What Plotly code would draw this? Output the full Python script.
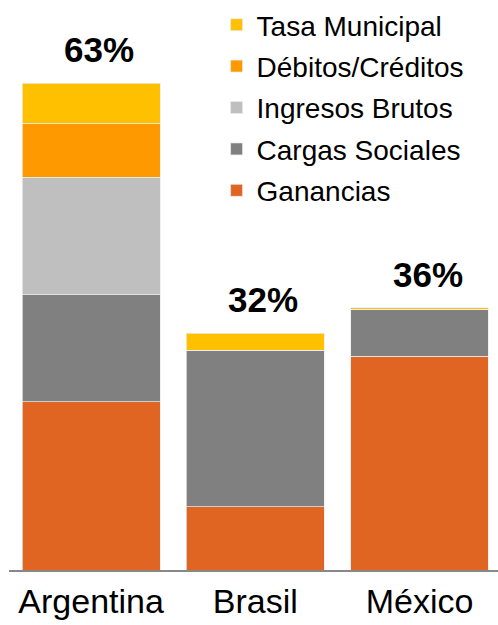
import plotly.graph_objects as go

countries = ["Argentina", "Brasil", "México"]
series_names = ["Ganancias", "Cargas Sociales", "Ingresos Brutos", "Débitos/Créditos", "Tasa Municipal"]
ganancias = [21.8, 8.2, 27.7]
cargas_sociales = [13.9, 20.3, 6.1]
ingresos_brutos = [15.2, 0, 0]
debitos_creditos = [7.0, 0, 0]
tasa_municipal = [5.2, 2.2, 0.2]
total_labels = ["63%", "32%", "36%"]
colors = ["#E06422", "#808080", "#BFBFBF", "#FF9900", "#FFC000"]

series_values = [ganancias, cargas_sociales, ingresos_brutos, debitos_creditos, tasa_municipal]
FONT = "Liberation Sans, Arial, sans-serif"

fig = go.Figure()
n = len(series_names)
for k, (name, vals, col) in enumerate(zip(series_names, series_values, colors)):
    fig.add_trace(go.Bar(
        x=countries, y=vals, name=name, legendgroup=name, legendrank=n - k,
        marker=dict(color=col, line=dict(color="rgba(235,235,235,0.9)", width=0.8)),
        hoverinfo="skip",
    ))

totals = [sum(v) for v in zip(*series_values)]
for c, t, lab in zip(countries, totals, total_labels):
    fig.add_annotation(
        x=c, y=t, text=f"<b>{lab}</b>", showarrow=False,
        xanchor="center", yanchor="bottom", xshift=8, yshift=12,
        font=dict(family=FONT, size=35, color="#000000"),
    )

fig.update_layout(
    width=498, height=625,
    barmode="stack", bargap=0.16,
    margin=dict(l=9, r=0, t=0, b=55),
    paper_bgcolor="white", plot_bgcolor="white",
    font=dict(family=FONT, color="#000000"),
    showlegend=True,
    legend=dict(
        x=0.4245, y=1.0, xanchor="left", yanchor="top",
        traceorder="grouped", tracegroupgap=2,
        font=dict(family=FONT, size=28, color="#000000"),
        bgcolor="rgba(0,0,0,0)",
    ),
    xaxis=dict(
        range=[-0.5, 2.478], showgrid=False, zeroline=False,
        showline=True, linecolor="#888888", linewidth=2,
        ticks="", tickfont=dict(family=FONT, size=34, color="#000000"),
    ),
    yaxis=dict(range=[0, 73.9], visible=False, showgrid=False, zeroline=False),
)

fig.write_html("out.html", config={"displayModeBar": False},
               post_script="document.body.style.margin='0';")
